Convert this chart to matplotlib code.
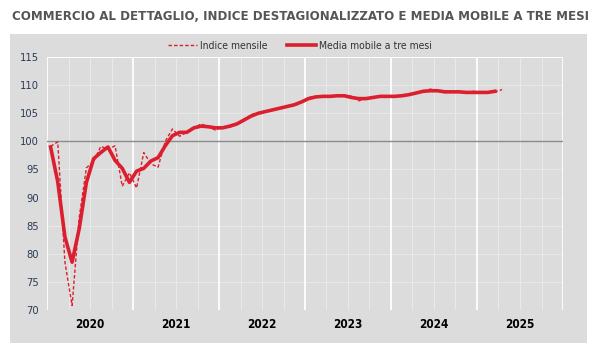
import matplotlib
matplotlib.use("Agg")
import matplotlib.pyplot as plt
from matplotlib.patches import Rectangle
from matplotlib.lines import Line2D
import numpy as np
from matplotlib import font_manager

fonts = font_manager.fontManager.ttflist
names = {f.name for f in fonts}
if "Liberation Sans Narrow" in names:
    FONT, STRETCH = "Liberation Sans Narrow", "normal"
else:
    FONT, STRETCH = "DejaVu Sans", "condensed"

years = ["2020", "2021", "2022", "2023", "2024", "2025"]
indice_mensile = [
    99.1, 99.9, 78.5, 70.8, 86.5, 95.3, 96.4, 99.1, 98.6, 99.2, 92.0, 94.4,
    91.7, 98.0, 96.0, 95.4, 100.0, 102.2, 100.9, 101.6, 102.4, 103.1, 102.6, 102.0,
    102.6, 102.5, 103.0, 103.7, 104.8, 105.0, 105.2, 105.6, 106.0, 106.2, 106.3, 107.0,
    107.8, 108.0, 107.9, 108.0, 108.1, 108.2, 108.0, 107.2, 107.6, 107.9, 108.0, 108.0,
    108.0, 108.1, 108.3, 108.5, 108.9, 109.3, 108.9, 108.7, 108.9, 108.9, 108.6, 108.9,
    108.7, 108.6, 108.8, 109.2,
]
media_mobile = [
    99.0, 92.8, 83.0, 78.5, 84.5, 92.7, 96.9, 98.0, 99.0, 96.6, 95.2, 92.7,
    94.7, 95.2, 96.5, 97.1, 99.2, 101.0, 101.6, 101.6, 102.4, 102.7, 102.6, 102.4,
    102.4, 102.7, 103.1, 103.8, 104.5, 105.0, 105.3, 105.6, 105.9, 106.2, 106.5, 107.0,
    107.6, 107.9, 108.0, 108.0, 108.1, 108.1, 107.8, 107.6, 107.6, 107.8, 108.0, 108.0,
    108.0, 108.1, 108.3, 108.6, 108.9, 109.0, 109.0, 108.8, 108.8, 108.8, 108.7, 108.7,
    108.7, 108.7, 108.9,
]

RED = "#dc1f2e"
PANEL = "#dcdcdc"

fig = plt.figure(figsize=(6, 3.6), dpi=100)
fig.patch.set_facecolor("white")
fig.patches.append(Rectangle((10/600, 17/360), 577/600, 309/360, transform=fig.transFigure,
                             facecolor=PANEL, edgecolor="none", zorder=-10))

ax = fig.add_axes([47/600, 50/360, 516/600, 253/360], zorder=5)
ax.set_facecolor(PANEL)

x_m = np.arange(len(indice_mensile))
x_a = np.arange(len(media_mobile))

ax.set_xlim(-0.5, 71.5)
ax.set_ylim(70, 115)

for k in range(0, 72, 3):
    xv = k - 0.5
    if k % 12 == 0:
        ax.axvline(xv, color="white", lw=1.3, zorder=1)
    else:
        ax.axvline(xv, color="#e9e9e9", lw=0.8, zorder=0.5)
ax.axvline(71.5, color="white", lw=1.3, zorder=1)
for yv in range(70, 116, 5):
    ax.axhline(yv, color="#e8e8e8", lw=0.8, zorder=0.5)
ax.axhline(115, color="white", lw=1.3, zorder=1)
ax.axhline(100, color="#8c8c8c", lw=1.0, zorder=2)

ax.plot(x_m, indice_mensile, color=RED, lw=1.0, ls=(0, (2.5, 1.5)), zorder=3)
ax.plot(x_a, media_mobile, color=RED, lw=2.6, solid_joinstyle="round", zorder=4)

for s in ax.spines.values():
    s.set_visible(False)

fp = dict(fontfamily=FONT, fontstretch=STRETCH)
ax.set_yticks(range(70, 116, 5))
ax.set_yticklabels([str(v) for v in range(70, 116, 5)], fontsize=8, color="#2b3a55", **fp)
ax.set_xticks([5.5 + 12 * i for i in range(len(years))])
ax.set_xticklabels(years, fontsize=8.5, fontweight="bold", color="black", **fp)
ax.tick_params(axis="both", length=0)
ax.tick_params(axis="y", pad=6)
ax.tick_params(axis="x", pad=6)

t = fig.text(0.5, 1 - 17/360, "COMMERCIO AL DETTAGLIO, INDICE DESTAGIONALIZZATO E MEDIA MOBILE A TRE MESI",
             ha="center", va="center", fontsize=11.5, fontweight="bold", color="#555555", **fp)
fig.canvas.draw()
w = t.get_window_extent().width
if w > 576:
    t.set_fontsize(11.5 * 576 / w)

handles = [Line2D([], [], color=RED, lw=1.0, ls=(0, (2.5, 1.5))),
           Line2D([], [], color=RED, lw=2.6)]
leg = fig.legend(handles, ["Indice mensile", "Media mobile a tre mesi"], loc="center",
                 bbox_to_anchor=(0.5, 1 - 46/360), ncol=2, frameon=False,
                 prop=font_manager.FontProperties(family=FONT, stretch=STRETCH, size=7.5),
                 labelcolor="#333333",
                 handlelength=2.8, handletextpad=0.3, columnspacing=1.8)

fig.savefig("out.png", dpi=100, facecolor="white")
